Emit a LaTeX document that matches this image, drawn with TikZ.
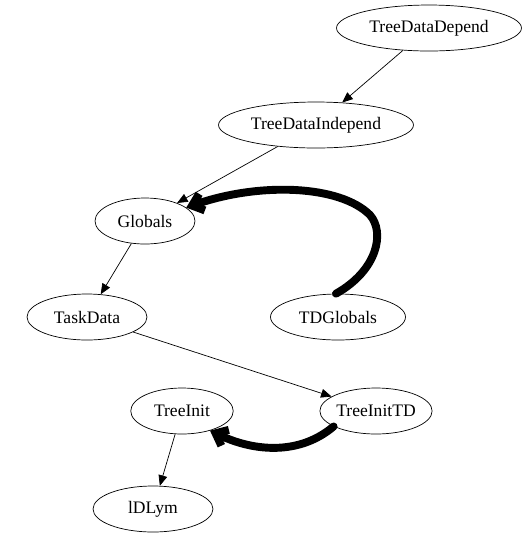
\documentclass[tikz,border=0pt]{standalone}
\usepackage{fontspec}
\setmainfont{Liberation Serif}
\usetikzlibrary{shapes.geometric,arrows.meta}
\begin{document}
\begin{tikzpicture}[x=0.02cm,y=-0.02cm]
		    \tikzstyle{every node}=[ellipse,draw,minimum height=0.92cm,inner sep=0pt]
		    \tikzstyle{dep}=[draw,-{Triangle[length=6pt,width=5pt]}]
		    \tikzstyle{scrawl}=[line width=4.5pt,line cap=round,line join=round,-{Straight Barb[length=6pt,width=10pt]}]
		    \useasboundingbox (0,0) rectangle (530,539);
		    \node[minimum width=3.7cm] (tdd) at (429,28) {TreeDataDepend};
		    \node[minimum width=3.9cm] (tdi) at (316,125) {TreeDataIndepend};
		    \node[minimum width=2cm] (glob) at (145,221) {Globals};
		    \node[minimum width=2.4cm] (task) at (87,317) {TaskData};
		    \node[minimum width=2.7cm] (tdglob) at (338,317) {TDGlobals};
		    \node[minimum width=2.05cm] (tinit) at (182,411) {TreeInit};
		    \node[minimum width=2.15cm] (tinittd) at (376,411) {TreeInitTD};
		    \node[minimum width=2.4cm] (ldlym) at (153,509) {lDLym};
		    \draw[dep] (tdd) -- (tdi);
		    \draw[dep] (tdi) -- (glob);
		    \draw[dep] (glob) -- (task);
		    \draw[dep] (task) -- (tinittd);
		    \draw[dep] (tinit) -- (ldlym);
		    % hand drawn ones
		    \draw[scrawl] (tdglob.95) .. controls (378,270) and (385,232) .. (370,215)
		        .. controls (340,185) and (260,182) .. (glob.18);
		    \draw[scrawl] (tinittd.200) .. controls (300,455) and (255,452) .. (tinit.-35);
		\end{tikzpicture}
\end{document}
